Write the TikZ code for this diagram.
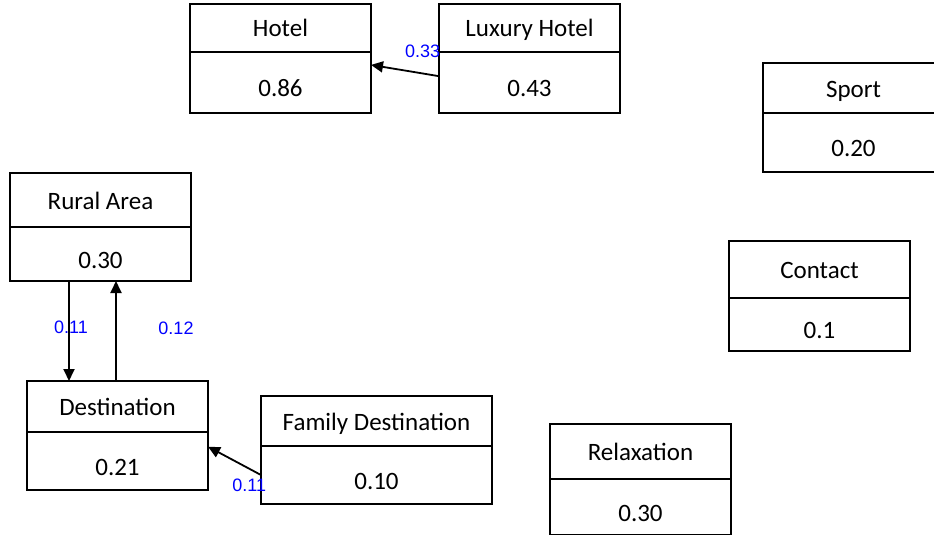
\documentclass[tikz,border=0pt]{standalone}
\usepackage{fontspec}
\setmainfont{Carlito}
\newfontfamily\lblfont{Liberation Sans}
\usetikzlibrary{arrows.meta,positioning}

\begin{document}
\begin{tikzpicture}[
  x=1pt, y=-1pt,
  head/.style={draw, line width=1.2pt, minimum width=181pt, minimum height=52pt, inner sep=0pt, outer sep=0pt, text height=22pt, text depth=4pt, font=\fontsize{25}{30}\selectfont},
  val/.style={head, minimum height=57pt, text height=28pt, text depth=0pt},
  arr/.style={-{Triangle[length=12pt,width=11pt]}, line width=1.8pt},
  wt/.style={text=blue, inner sep=0pt, font=\lblfont\fontsize{18}{20}\selectfont}
]
\useasboundingbox (0,0) rectangle (934,535);

% top row
\node[head, anchor=north west, minimum height=48pt] (hotel) at (190,4) {Hotel};
\node[val, below=0pt of hotel, minimum height=61pt] (hotelv) {0.86};
\node[head, anchor=north west, minimum height=48pt] (lux) at (439,4) {Luxury Hotel};
\node[val, below=0pt of lux, minimum height=61pt] (luxv) {0.43};

% right column
\node[head, anchor=north west, minimum height=50pt] (sport) at (763,63) {Sport};
\node[val, below=0pt of sport, minimum height=59pt] (sportv) {0.20};
\node[head, anchor=north west, minimum height=57pt] (contact) at (729,241) {Contact};
\node[val, below=0pt of contact, minimum height=53pt] (contactv) {0.1};
\node[head, anchor=north west, minimum height=55pt] (relax) at (550,424) {Relaxation};
\node[val, below=0pt of relax, minimum height=56pt] (relaxv) {0.30};

% left part
\node[head, anchor=north west, minimum height=54pt] (rural) at (10,173) {Rural Area};
\node[val, below=0pt of rural, minimum height=54pt] (ruralv) {0.30};
\node[head, anchor=north west, minimum height=51pt] (dest) at (27,381) {Destination};
\node[val, below=0pt of dest, minimum height=58pt] (destv) {0.21};
\node[head, anchor=north west, minimum width=231pt, minimum height=50pt] (fam) at (261,396) {Family Destination};
\node[val, below=0pt of fam, minimum width=231pt, minimum height=58pt] (famv) {0.10};

% links
\draw[arr] (luxv.176) -- (hotelv.11) node[wt, at start, anchor=east, xshift=2pt, yshift=25pt] {0.33};
\draw[arr] ([xshift=-31.5pt]ruralv.south) -- ([xshift=-31.5pt]ruralv.south |- dest.north) node[wt, midway, xshift=2pt, yshift=4pt] {0.11};
\draw[arr] ([xshift=15.5pt]ruralv.south |- dest.north) -- ([xshift=15.5pt]ruralv.south) node[wt, midway, xshift=60pt, yshift=3pt] {0.12};
\draw[arr] (famv.west) -- (destv.9) node[wt, at start, anchor=east, xshift=6pt, yshift=-10pt] {0.11};
\end{tikzpicture}
\end{document}
